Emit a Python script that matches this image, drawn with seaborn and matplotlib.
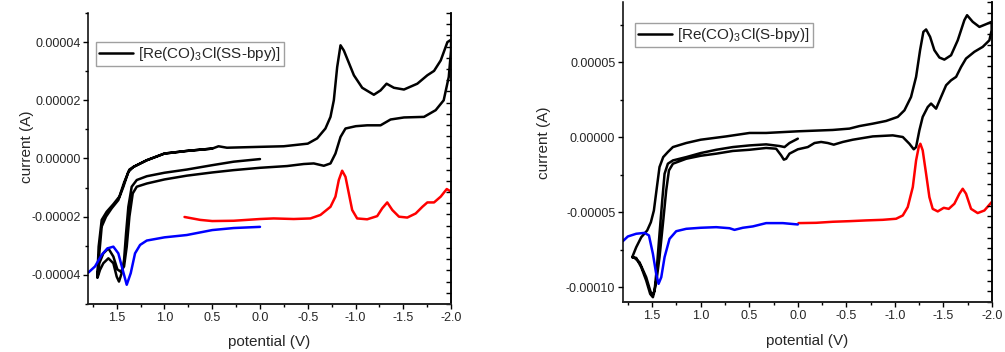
import matplotlib
matplotlib.use('Agg')
import matplotlib.pyplot as plt
import matplotlib.ticker as mticker
import numpy as np
import pandas as pd
import seaborn as sns

# values; current in units of 1e-5 A
# left panel: [Re(CO)3Cl(SS-bpy)]
ss_cv_v = [0.0, 0.276, 0.5, 0.766, 1.0, 1.185, 1.29, 1.343, 1.378, 1.402, 1.423, 1.448, 1.476, 1.5, 1.535, 1.587, 1.64, 1.675, 1.70,
           1.682, 1.657, 1.612, 1.552, 1.483, 1.43, 1.378, 1.325, 1.185, 1.0, 0.766, 0.5, 0.434, 0.346, 0.0, -0.248, -0.5, -0.598,
           -0.685, -0.738, -0.773, -0.808, -0.843, -0.878, -0.92, -0.983, -1.07, -1.192, -1.262, -1.325, -1.402, -1.507, -1.647,
           -1.752, -1.822, -1.892, -1.962, -2.0,
           -2.0, -1.976, -1.923, -1.839, -1.717, -1.507, -1.367, -1.262, -1.122, -1.003, -0.895, -0.843, -0.79, -0.738, -0.668,
           -0.563, -0.458, -0.283, 0.0, 0.276, 0.5, 0.766, 1.0, 1.185, 1.29, 1.332, 1.367, 1.395, 1.423, 1.458, 1.493, 1.535,
           1.587, 1.64, 1.682, 1.703,
           1.689, 1.657, 1.605, 1.535, 1.472, 1.423, 1.367, 1.325, 1.185, 1.0, 0.766, 0.5]
ss_cv_i = [-0.02, -0.11, -0.23, -0.38, -0.49, -0.61, -0.74, -0.97, -1.66, -2.57, -3.49, -3.94, -4.23, -4.06, -3.6, -3.43, -3.6, -3.83, -4.09,
           -3.26, -2.34, -2.0, -1.71, -1.43, -0.97, -0.46, -0.29, -0.06, 0.17, 0.26, 0.34, 0.42, 0.37, 0.40, 0.42, 0.51, 0.69,
           1.03, 1.43, 2.0, 3.14, 3.89, 3.71, 3.37, 2.86, 2.43, 2.19, 2.34, 2.57, 2.43, 2.37, 2.57,
           2.86, 3.01, 3.37, 4.0, 4.08,
           3.71, 2.8, 2.0, 1.66, 1.43, 1.41, 1.34, 1.14, 1.14, 1.11, 1.03, 0.74, 0.17, -0.17, -0.25,
           -0.17, -0.19, -0.26, -0.32, -0.4, -0.48, -0.59, -0.72, -0.86, -0.97, -1.2, -2.0, -3.03, -3.71, -3.89, -3.81, -3.37,
           -3.09, -3.26, -3.6, -4.09,
           -3.03, -2.11, -1.83, -1.57, -1.31, -0.83, -0.38, -0.29, -0.06, 0.17, 0.26, 0.34]
ss_red_v = [0.79, 0.626, 0.5, 0.276, 0.0, -0.143, -0.353, -0.528, -0.633, -0.738, -0.79, -0.825, -0.86, -0.895, -0.93, -0.965,
            -1.017, -1.122, -1.227, -1.28, -1.332, -1.385, -1.455, -1.542, -1.63, -1.70, -1.752, -1.822, -1.892, -1.955, -2.0]
ss_red_i = [-2.01, -2.11, -2.15, -2.14, -2.08, -2.06, -2.08, -2.06, -1.94, -1.66, -1.31, -0.74, -0.42, -0.63, -1.2, -1.77,
            -2.06, -2.09, -1.98, -1.71, -1.51, -1.77, -2.0, -2.03, -1.89, -1.66, -1.51, -1.51, -1.31, -1.05, -1.14]
ss_blue_v = [1.797, 1.727, 1.657, 1.598, 1.535, 1.483, 1.437, 1.395, 1.353, 1.308, 1.255, 1.185, 1.0, 0.766, 0.5, 0.276, 0.0]
ss_blue_i = [-3.92, -3.71, -3.31, -3.09, -3.03, -3.26, -3.83, -4.34, -3.94, -3.26, -2.97, -2.82, -2.71, -2.63, -2.46, -2.39, -2.35]

# right panel: [Re(CO)3Cl(S-bpy)]
s_cv_v = [0.0, 0.086, 0.137, 0.189, 0.326, 0.497, 0.669, 0.84, 1.0, 1.149, 1.286, 1.338, 1.372, 1.396, 1.424, 1.451, 1.475, 1.499,
          1.52, 1.561, 1.63, 1.681, 1.705,
          1.664, 1.612, 1.551, 1.513, 1.482, 1.451, 1.424, 1.386, 1.338, 1.286, 1.149, 1.0, 0.738, 0.497, 0.326, 0.0, -0.36,
          -0.532, -0.635, -0.772, -0.909, -1.029, -1.098, -1.166, -1.218, -1.259, -1.293, -1.321, -1.362, -1.406, -1.458,
          -1.509, -1.578, -1.647, -1.715, -1.743, -1.801, -1.87, -1.938, -1.996,
          -1.996, -1.973, -1.904, -1.818, -1.732, -1.681, -1.63, -1.578, -1.527, -1.475, -1.424, -1.372, -1.338, -1.286,
          -1.252, -1.218, -1.194, -1.149, -1.081, -0.978, -0.772, -0.566, -0.463, -0.37, -0.309, -0.24, -0.172, -0.103, 0.0,
          0.086, 0.12, 0.144, 0.172, 0.223, 0.326, 0.497, 0.669, 0.84, 1.0, 1.149, 1.286, 1.327, 1.355, 1.389, 1.424, 1.451,
          1.475, 1.492, 1.52, 1.561, 1.612, 1.664, 1.705]
s_cv_i = [-0.11, -0.40, -0.67, -0.60, -0.49, -0.56, -0.67, -0.85, -1.07, -1.34, -1.56, -1.78, -2.45, -4.23, -6.45, -8.68, -10.24, -10.57,
          -10.24, -9.35, -8.35, -8.06, -8.01,
          -7.35, -6.68, -6.23, -5.68, -4.9, -3.34, -2.0, -1.34, -1.0, -0.67, -0.40, -0.18, 0.04, 0.27, 0.27, 0.38, 0.47,
          0.56, 0.73, 0.89, 1.07, 1.34, 1.78, 2.67, 4.01, 5.79, 7.01, 7.17, 6.68, 5.79, 5.30,
          5.16, 5.45, 6.45, 7.79, 8.12, 7.68, 7.34, 7.52, 7.68,
          7.12, 6.45, 6.01, 5.68, 5.23, 4.67, 4.01, 3.78, 3.45, 2.67, 1.89, 2.23, 2.0, 1.34,
          0.45, -0.67, -0.82, -0.45, 0.0, 0.11, 0.04, -0.18, -0.33, -0.51, -0.40, -0.33, -0.40, -0.67, -0.82,
          -1.11, -1.45, -1.51, -1.22, -0.78, -0.73, -0.85, -0.93, -1.11, -1.25, -1.45, -1.78, -2.23, -3.56, -5.79, -8.01, -9.35,
          -10.24, -10.68, -10.46, -9.57, -8.68, -8.06, -8.01]
s_red_v = [-0.007, -0.189, -0.36, -0.532, -0.703, -0.875, -1.012, -1.081, -1.132, -1.184, -1.218, -1.245, -1.262, -1.286,
           -1.321, -1.355, -1.389, -1.441, -1.503, -1.554, -1.612, -1.664, -1.698, -1.732, -1.784, -1.852, -1.921, -1.996]
s_red_i = [-5.74, -5.72, -5.65, -5.61, -5.56, -5.52, -5.45, -5.23, -4.67, -3.34, -1.56, -0.67, -0.45, -0.89,
           -2.45, -4.01, -4.79, -4.96, -4.72, -4.79, -4.45, -3.78, -3.45, -3.78, -4.79, -5.07, -4.9, -4.34]
s_blue_v = [1.801, 1.75, 1.664, 1.578, 1.533, 1.492, 1.458, 1.434, 1.406, 1.372, 1.321, 1.252, 1.149, 1.0, 0.84, 0.703,
            0.652, 0.566, 0.463, 0.326, 0.154, 0.0]
s_blue_i = [-6.94, -6.63, -6.45, -6.39, -6.56, -7.79, -9.13, -9.79, -9.35, -8.01, -6.79, -6.28, -6.12, -6.05, -6.01, -6.08,
            -6.19, -6.05, -5.96, -5.74, -5.74, -5.83]

sns.set_theme(style='ticks')
plt.rcParams['font.family'] = ['Liberation Sans', 'DejaVu Sans']
plt.rcParams['mathtext.default'] = 'regular'
plt.rcParams['axes.unicode_minus'] = False


def frame(v, i):
    return pd.DataFrame({'potential': v, 'current': np.array(i) * 1e-5})


def draw_panel(ax, cv, red, blue, label, ylim, ymajor, nright):
    sns.lineplot(data=frame(*cv), x='potential', y='current', sort=False, estimator=None,
                 color='black', linewidth=1.8, label=label, ax=ax)
    sns.lineplot(data=frame(*red), x='potential', y='current', sort=False, estimator=None,
                 color='#ff0000', linewidth=1.8, legend=False, ax=ax)
    sns.lineplot(data=frame(*blue), x='potential', y='current', sort=False, estimator=None,
                 color='#0000ff', linewidth=1.8, legend=False, ax=ax)
    ax.set_xlim(1.8, -2.0)
    ax.set_ylim(*ylim)
    ax.xaxis.set_major_locator(mticker.MultipleLocator(0.5))
    ax.xaxis.set_minor_locator(mticker.MultipleLocator(0.25))
    ax.xaxis.set_major_formatter(mticker.FormatStrFormatter('%.1f'))
    ax.yaxis.set_major_locator(mticker.MultipleLocator(ymajor))
    ax.yaxis.set_minor_locator(mticker.MultipleLocator(ymajor / 2))
    ax.yaxis.set_major_formatter(mticker.FormatStrFormatter('%.5f'))
    ax.tick_params(which='major', direction='out', length=3.5, width=1.0, labelsize=9, pad=2, color='black')
    ax.tick_params(which='minor', direction='out', length=2.2, width=1.0, color='black')
    for side in ['left', 'bottom', 'right']:
        ax.spines[side].set_linewidth(1.1)
        ax.spines[side].set_color('black')
    ax.spines['top'].set_visible(False)
    ax.set_xlabel('potential (V)', fontsize=11)
    ax.set_ylabel('current (A)', fontsize=11)

    # unlabeled tick marks along the right edge
    tw = ax.twinx()
    tw.set_ylim(0, nright)
    tw.yaxis.set_major_locator(mticker.MultipleLocator(1))
    tw.yaxis.set_minor_locator(mticker.NullLocator())
    tw.tick_params(which='both', direction='in', length=3.5, width=1.0, labelright=False,
                   right=True, left=False, color='black')
    tw.spines['top'].set_visible(False)
    tw.spines['left'].set_visible(False)
    tw.spines['right'].set_linewidth(1.1)
    tw.spines['right'].set_color('black')


fig = plt.figure(figsize=(10.05, 3.52), dpi=100)
ax1 = fig.add_axes([0.0876, 0.1364, 0.3612, 0.8267])
ax2 = fig.add_axes([0.6199, 0.142, 0.3672, 0.8523])

draw_panel(ax1, (ss_cv_v, ss_cv_i), (ss_red_v, ss_red_i), (ss_blue_v, ss_blue_i),
           r'[Re(CO)$_3$Cl(SS-bpy)]', (-5e-5, 5e-5), 2e-5, 26)
draw_panel(ax2, (s_cv_v, s_cv_i), (s_red_v, s_red_i), (s_blue_v, s_blue_i),
           r'[Re(CO)$_3$Cl(S-bpy)]', (-11e-5, 9e-5), 5e-5, 28)

ax1.xaxis.set_label_coords(0.5, -0.105)
ax1.yaxis.set_label_coords(-0.15, 0.54)
ax2.xaxis.set_label_coords(0.5, -0.105)
ax2.yaxis.set_label_coords(-0.195, 0.53)

for ax, anchor in [(ax1, (0.022, 0.90)), (ax2, (0.033, 0.93))]:
    leg = ax.legend(loc='upper left', bbox_to_anchor=anchor, borderaxespad=0, fontsize=11,
                    frameon=True, fancybox=False, handlelength=2.2, borderpad=0.2, handletextpad=0.35)
    leg.get_frame().set_edgecolor('#888888')
    leg.get_frame().set_linewidth(1.0)

fig.savefig('out.png', dpi=100)
